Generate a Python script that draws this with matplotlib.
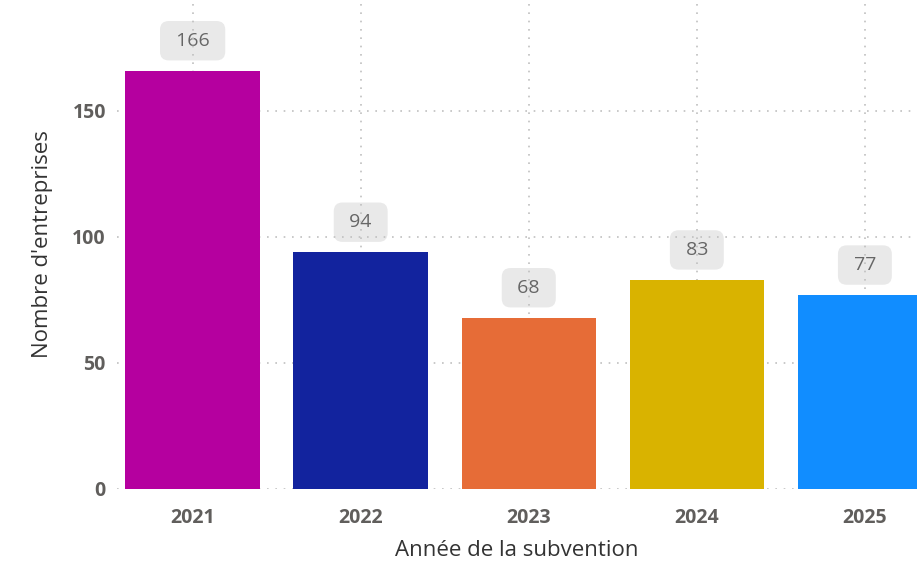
import matplotlib.pyplot as plt
import numpy as np

# data
years = ['2021', '2022', '2023', '2024', '2025']
counts = [166, 94, 68, 83, 77]
colors = ['#B5009F', '#12239E', '#E66C37', '#D9B300', '#118DFF']
y_ticks = [0, 50, 100, 150]

plt.rcParams['font.family'] = ['Open Sans', 'DejaVu Sans']

fig = plt.figure(figsize=(9.17, 5.65), dpi=100)
ax = fig.add_axes([117 / 917, 76 / 565, 1 - 117 / 917, 1 - 76 / 565])

x = np.arange(len(years))
ax.bar(x, counts, width=0.8, color=colors, zorder=2)

# value labels in rounded grey boxes (grid shows through them, as in the original)
for xi, v in zip(x, counts):
    ax.annotate(f' {v} ', (xi, v), xytext=(0, 21.5), textcoords='offset points',
                ha='center', va='center', fontsize=14, color='#666666',
                bbox=dict(boxstyle='round,pad=0.55,rounding_size=0.45',
                          fc='#E9E9E9', ec='none'),
                zorder=1)

ax.set_xlim(-0.45, 4.31)
ax.set_ylim(0, 194)
ax.set_xticks(x)
ax.set_xticklabels(years)
ax.set_yticks(y_ticks)

for s in ax.spines.values():
    s.set_visible(False)

ax.tick_params(length=0, labelsize=14, labelcolor='#605E5C')
ax.tick_params(axis='x', pad=14)
ax.tick_params(axis='y', pad=8)
for lab in ax.get_xticklabels() + ax.get_yticklabels():
    lab.set_fontweight('bold')

ax.set_axisbelow('line')
ax.grid(True, linestyle=(0, (1, 4)), color='#C0C0C0', linewidth=1.2)

ax.set_xlabel('Année de la subvention', fontsize=16, color='#333333', labelpad=8)
ax.set_ylabel("Nombre d'entreprises", fontsize=16, color='#333333', labelpad=14)

fig.savefig('out.png', dpi=100)
